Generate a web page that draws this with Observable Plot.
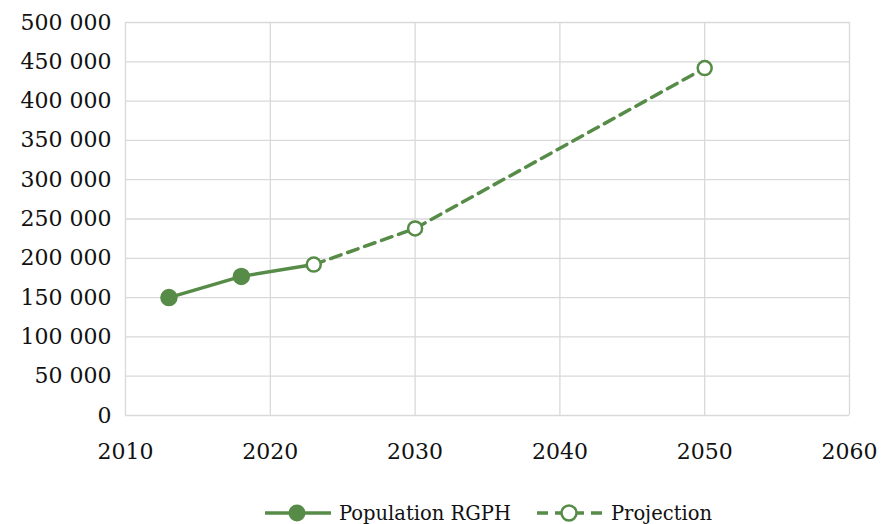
<!DOCTYPE html>
<html><head><meta charset="utf-8">
<script src="https://cdn.jsdelivr.net/npm/d3@7"></script>
<script src="https://cdn.jsdelivr.net/npm/@observablehq/plot@0.6"></script>
<style>
body{margin:0;background:#fff;font-family:"DejaVu Serif",serif;}
#legend{display:flex;justify-content:flex-start;align-items:center;height:86px;padding-left:265px;font-size:19.5px;color:#111;}
</style></head><body>
<div id="chart"></div>
<div id="legend"></div>
<script>
const rgphYears = [2013, 2018, 2023];
const rgphValues = [150000, 177000, 192000];
const projYears = [2023, 2030, 2050];
const projValues = [192000, 238000, 442000];
const xTicks = [2010, 2020, 2030, 2040, 2050, 2060];
const yTicks = [0, 50000, 100000, 150000, 200000, 250000, 300000, 350000, 400000, 450000, 500000];
const seriesNames = ["Population RGPH", "Projection"];
const green = "#578c48";

const rgph = rgphYears.map((x, i) => ({x, y: rgphValues[i]}));
const proj = projYears.map((x, i) => ({x, y: projValues[i]}));
const fmt = v => d3.format(",")(v).replace(/,/g, " ");

const plot = Plot.plot({
  width: 881, height: 470,
  marginLeft: 125, marginRight: 32, marginTop: 22, marginBottom: 55,
  style: {fontFamily: "DejaVu Serif, serif", fontSize: "22px", color: "#111"},
  x: {domain: [2010, 2060], ticks: xTicks, tickFormat: d => String(d), tickSize: 0, tickPadding: 28, label: null},
  y: {domain: [0, 500000], ticks: yTicks, tickFormat: fmt, tickSize: 0, tickPadding: 14, label: null},
  marks: [
    Plot.gridX(xTicks, {stroke: "#d9d9d9", strokeOpacity: 1, strokeWidth: 1.3}),
    Plot.gridY(yTicks, {stroke: "#d9d9d9", strokeOpacity: 1, strokeWidth: 1.3}),
    Plot.line(proj, {x: "x", y: "y", stroke: green, strokeWidth: 3.5, strokeDasharray: "11,7"}),
    Plot.line(rgph, {x: "x", y: "y", stroke: green, strokeWidth: 3.5}),
    Plot.dot(rgph.slice(0, 2), {x: "x", y: "y", r: 8, fill: green, stroke: green}),
    Plot.dot(proj, {x: "x", y: "y", r: 7, fill: "white", stroke: green, strokeWidth: 2.5})
  ]
});
document.getElementById("chart").appendChild(plot);

const leg = document.getElementById("legend");
leg.innerHTML = `
<svg width="66" height="20" style="margin-right:8px"><line x1="0" y1="10" x2="66" y2="10" stroke="${green}" stroke-width="3.5"/><circle cx="32" cy="10" r="8.5" fill="${green}"/></svg>
<span style="margin-right:26px">${seriesNames[0]}</span>
<svg width="66" height="20" style="margin-right:8px"><line x1="0" y1="10" x2="66" y2="10" stroke="${green}" stroke-width="3.5" stroke-dasharray="11,7"/><circle cx="32" cy="10" r="7.5" fill="white" stroke="${green}" stroke-width="2.5"/></svg>
<span>${seriesNames[1]}</span>`;
</script>
</body></html>
